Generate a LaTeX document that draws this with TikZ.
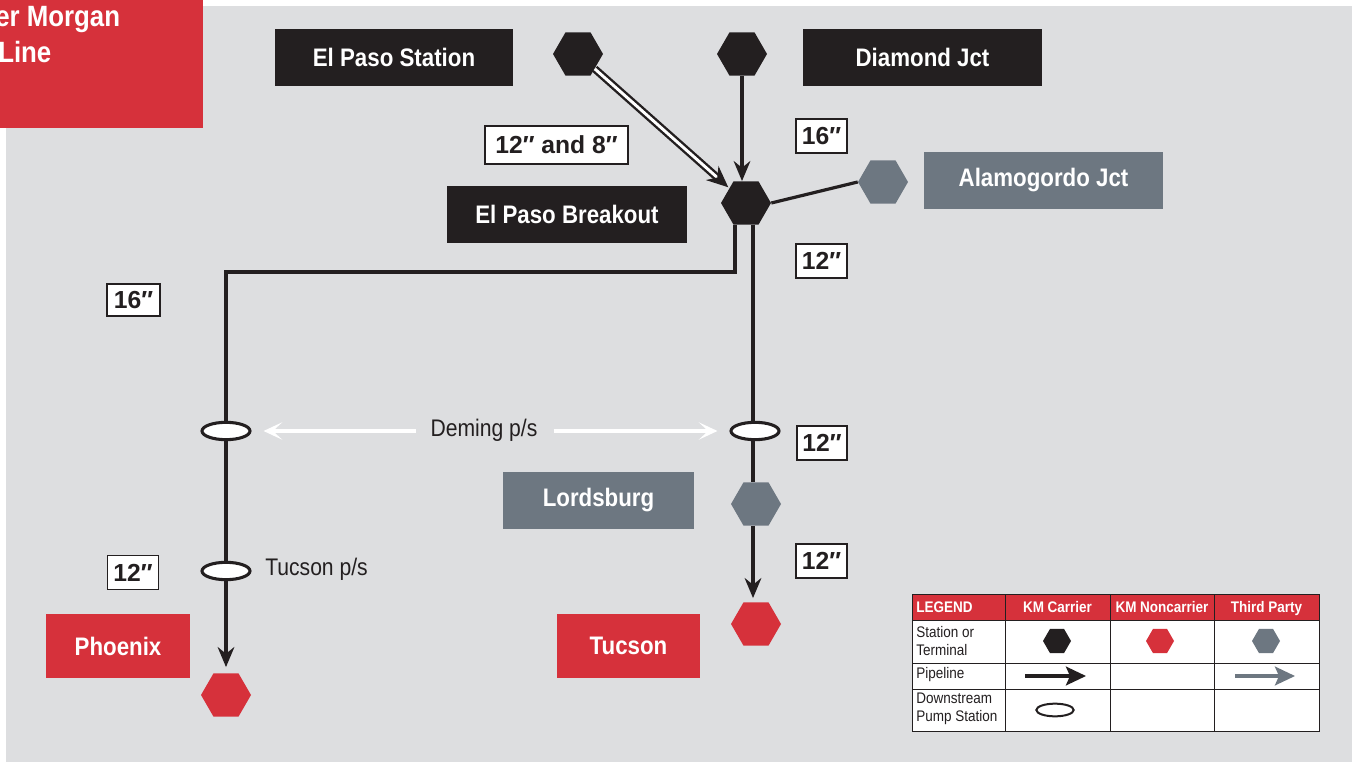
\documentclass[tikz,border=0pt]{standalone}
\usepackage{fontspec}
\setmainfont{Liberation Sans}
\newfontfamily\cond[FakeStretch=0.88]{Liberation Sans}
\usetikzlibrary{shapes.geometric,arrows.meta}
\definecolor{kmred}{HTML}{D6313B}
\definecolor{kmblack}{HTML}{231F20}
\definecolor{kmgray}{HTML}{6D7781}
\definecolor{bggray}{HTML}{DDDEE0}
\begin{document}
\begin{tikzpicture}[x=0.75pt,y=-0.75pt,
  hexa/.style={regular polygon, regular polygon sides=6, minimum size=37.5pt, inner sep=0pt, draw=none},
  hexblack/.style={hexa, fill=kmblack},
  hexred/.style={hexa, fill=kmred},
  hexgray/.style={hexa, fill=kmgray},
  namebox/.style={inner sep=0pt, text=white, font=\cond\bfseries\fontsize{19}{21}\selectfont, minimum height=42.75pt},
  sizebox/.style={draw=kmblack, line width=0.8pt, fill=white, inner sep=0pt, text=kmblack, font=\bfseries\fontsize{18.5}{20}\selectfont, minimum height=25.5pt},
  pipe/.style={draw=kmblack, line width=2.4pt},
  pipetip/.style={-{Stealth[length=15pt,width=12.5pt,inset=5pt]}},
  pump/.style={ellipse, draw=kmblack, fill=white, line width=2.3pt, minimum width=36pt, minimum height=13pt, inner sep=0pt},
  wharrow/.style={draw=white, line width=2.6pt, -{Stealth[length=14pt,width=13pt,inset=7pt]}},
  plabel/.style={inner sep=0pt, text=kmblack, font=\cond\fontsize{18}{20}\selectfont},
  legtext/.style={inner sep=0pt, text=kmblack, font=\cond\fontsize{11.5}{13.5}\selectfont, align=left},
  leghead/.style={inner sep=0pt, text=white, font=\cond\bfseries\fontsize{11.5}{13.5}\selectfont, anchor=base},
  leghex/.style={regular polygon, regular polygon sides=6, minimum size=21pt, inner sep=0pt}
]
\useasboundingbox (0,0) rectangle (1352,762);
\fill[white] (0,0) rectangle (1352,762);
\fill[bggray] (6,6) rectangle (1352,762);

% title
\fill[kmred] (0,0) rectangle (203,128);
\node[anchor=base west, inner sep=0pt, text=white, font=\cond\bfseries\fontsize{22}{24}\selectfont] (title1) at (-5,27) {er Morgan};
\node[anchor=base west, inner sep=0pt, text=white, font=\cond\bfseries\fontsize{22}{24}\selectfont] (title2) at (-2,63) {Line};

% name boxes
\node[namebox, fill=kmblack, minimum width=178.5pt] (epsbox) at (394,57.5) {El Paso Station};
\node[namebox, fill=kmblack, minimum width=179.25pt] (djbox) at (922.5,57.5) {Diamond Jct};
\node[namebox, fill=kmblack, minimum width=180pt] (epbbox) at (567,214.5) {El Paso Breakout};
\node[namebox, fill=kmgray, minimum width=179.25pt] (alambox) at (1043.5,180.5) {Alamogordo Jct};
\node[namebox, fill=kmgray, minimum width=143.25pt] (lordsbox) at (598.5,500.5) {Lordsburg};
\node[namebox, fill=kmred, minimum width=108pt, minimum height=48pt] (phxbox) at (118,646) {Phoenix};
\node[namebox, fill=kmred, minimum width=107.25pt, minimum height=48pt] (tucbox) at (628.5,646) {Tucson};

% stations
\node[hexblack] (eps) at (578,54) {};
\node[hexblack] (dj) at (742,54) {};
\node[hexblack] (epb) at (746,203) {};
\node[hexgray] (alam) at (883,182) {};
\node[hexgray] (lords) at (756,504) {};
\node[hexred] (tucson) at (756,624) {};
\node[hexred] (phoenix) at (226,695) {};

% pump stations
\node[pump] (deml) at (226,431) {};
\node[pump] (demr) at (755,431) {};
\node[pump] (tusl) at (226,571) {};

% size labels
\node[sizebox, minimum width=107.25pt, minimum height=28.5pt] (s1) at (556.5,145) {12″ and 8″};
\node[sizebox, minimum width=38.25pt] (s2) at (821.5,136) {16″};
\node[sizebox, minimum width=38.25pt] (s3) at (821.5,261) {12″};
\node[sizebox, minimum width=39.75pt, minimum height=24pt] (s4) at (133.5,300) {16″};
\node[sizebox, minimum width=37.5pt] (s5) at (822,443) {12″};
\node[sizebox, minimum width=38.25pt] (s6) at (821.5,561) {12″};
\node[sizebox, minimum width=38.25pt, minimum height=26pt] (s7) at (133,572.5) {12″};

% connectors
\draw[pipe, line width=1.8pt, double=white, double distance=2.2pt, -{Stealth[length=16pt,width=14pt,inset=5pt]}, shorten >=1pt] (eps) -- (epb);
\draw[pipe, pipetip] (dj.south) -- (dj.south |- epb.north);
\draw[pipe] (epb.east) -- (alam.west);
\coordinate (c1) at (735,272);
\coordinate (c2) at (226,272);
\draw[pipe] (epb.south -| c1) -- (c1) -- (c2) -- (deml.north);
\draw[pipe] (deml.south) -- (tusl.north);
\draw[pipe, pipetip, shorten >=4.5pt] (tusl.south) -- (phoenix.north);
\coordinate (c3) at (753,272);
\draw[pipe] (epb.south -| c3) -- (c3 |- demr.north);
\draw[pipe] (c3 |- demr.south) -- (c3 |- lords.north);
\draw[pipe, pipetip, shorten >=3pt] (c3 |- lords.south) -- (c3 |- tucson.north);

% pump labels
\node[plabel] (deming) at (484,430) {Deming p/s};
\coordinate (wl) at ([xshift=-11pt]deming.west);
\coordinate (wr) at ([xshift=12pt]deming.east);
\draw[wharrow] (wl |- deml.east) -- ([xshift=9pt]deml.east);
\draw[wharrow] (wr |- demr.west) -- ([xshift=-9pt]demr.west);
\node[plabel, anchor=west] (tucps) at (265,569) {Tucson p/s};

% legend
\fill[white] (912,620) rectangle (1319,731);
\fill[kmred] (912,594) rectangle (1319,620);
\draw[kmblack, line width=0.7pt] (912,594) rectangle (1319,731);
\draw[kmblack, line width=0.7pt] (912,620) -- (1319,620) (912,663) -- (1319,663) (912,689) -- (1319,689)
  (1005,594) -- (1005,731) (1110,594) -- (1110,731) (1214,594) -- (1214,731);
\node[leghead, anchor=base west] (lg1) at (916,612) {LEGEND};
\node[leghead] (lg2) at (1057.5,612) {KM Carrier};
\node[leghead] (lg3) at (1162,612) {KM Noncarrier};
\node[leghead] (lg4) at (1266.5,612) {Third Party};
\node[legtext, anchor=west] (lr1) at (916,641) {Station or\\Terminal};
\node[legtext, anchor=west] (lr2) at (916,675) {Pipeline};
\node[legtext, anchor=west] (lr3) at (916,709) {Downstream\\Pump Station};
\node[leghex, fill=kmblack] (lh1) at (1057,641) {};
\node[leghex, fill=kmred] (lh2) at (1160,641) {};
\node[leghex, fill=kmgray] (lh3) at (1266,641) {};
\coordinate (la1) at (1025,676);
\coordinate (la2) at (1086,676);
\coordinate (la3) at (1235,676);
\coordinate (la4) at (1295,676);
\draw[kmblack, line width=2.6pt, -{Stealth[length=15pt,width=14pt,inset=3pt]}] (la1) -- (la2);
\draw[kmgray, line width=2.6pt, -{Stealth[length=15pt,width=14pt,inset=3pt]}] (la3) -- (la4);
\node[ellipse, draw=kmblack, fill=white, line width=1.5pt, minimum width=28pt, minimum height=9.5pt, inner sep=0pt] (lp) at (1055,710) {};
\end{tikzpicture}
\end{document}
